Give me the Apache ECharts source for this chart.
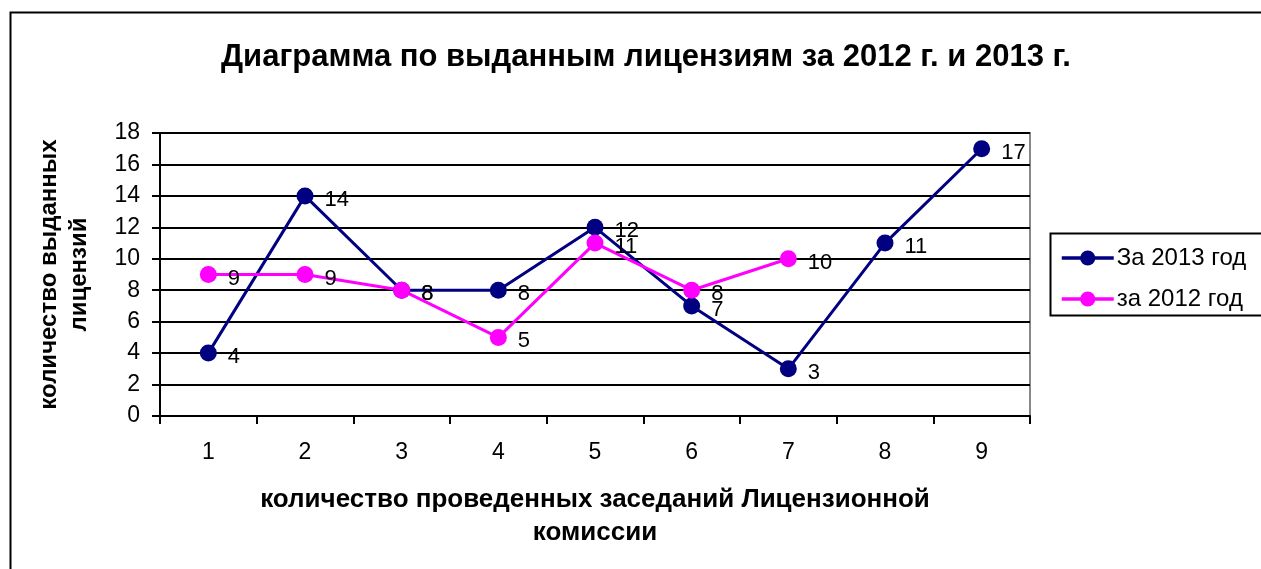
<!DOCTYPE html>
<html>
<head>
    <meta charset="utf-8">
    <title>Диаграмма по выданным лицензиям</title>
    <script src="https://cdn.jsdelivr.net/npm/echarts@6/dist/echarts.min.js"></script>
    <style>
        html, body { margin: 0; padding: 0; background: #fff; }
        #chart { width: 1261px; height: 569px; }
    </style>
</head>
<body>
    <div id="chart"></div>
    <script>
        // данные
        const categories = ['1', '2', '3', '4', '5', '6', '7', '8', '9'];
        const data2013 = [4, 14, 8, 8, 12, 7, 3, 11, 17];
        const data2012 = [9, 9, 8, 5, 11, 8, 10, null, null];
        const seriesNames = ['За 2013 год', 'за 2012 год'];

        const font = 'Liberation Sans, Arial, sans-serif';
        const chart = echarts.init(document.getElementById('chart'));

        function lineSeries(name, data, color) {
            return {
                name: name,
                type: 'line',
                data: data,
                symbol: 'circle',
                symbolSize: 17,
                itemStyle: { color: color },
                lineStyle: { color: color, width: 3 },
                label: {
                    show: true,
                    position: 'right',
                    distance: 11,
                    color: '#000',
                    fontSize: 22,
                    fontFamily: font,
                    offset: [0, 4]
                }
            };
        }

        chart.setOption({
            animation: false,
            title: {
                text: 'Диаграмма по выданным лицензиям за 2012 г. и 2013 г.',
                left: 641,
                textAlign: 'center',
                top: 37,
                textStyle: { fontSize: 31, fontWeight: 'bold', fontFamily: font, color: '#000' }
            },
            graphic: [
                {
                    type: 'rect',
                    shape: { x: 10.5, y: 12.5, width: 1300, height: 600 },
                    style: { fill: 'none', stroke: '#000', lineWidth: 2 },
                    silent: true, z: -1
                },
                {
                    type: 'rect',
                    shape: { x: 1050.5, y: 233.5, width: 300, height: 82 },
                    style: { fill: 'none', stroke: '#000', lineWidth: 2 },
                    silent: true
                }
            ],
            legend: {
                orient: 'vertical',
                left: 1055,
                top: 241,
                itemWidth: 52,
                itemHeight: 19,
                itemGap: 17,
                data: seriesNames,
                lineStyle: { width: 3.5 },
                textStyle: { fontSize: 24, fontFamily: font, color: '#000', padding: [0, 0, 0, -2] }
            },
            grid: {
                left: 160,
                top: 133,
                right: 231,
                bottom: 153,
                show: true,
                borderColor: '#888',
                borderWidth: 2,
                backgroundColor: 'transparent'
            },
            xAxis: {
                type: 'category',
                data: categories,
                boundaryGap: true,
                axisLine: { lineStyle: { color: '#000', width: 2 } },
                axisTick: { show: true, interval: 0, length: 8, lineStyle: { color: '#000', width: 2 } },
                axisLabel: { fontSize: 23, fontFamily: font, color: '#000', margin: 25 },
                name: 'количество проведенных заседаний Лицензионной\nкомиссии',
                nameLocation: 'middle',
                nameGap: 67,
                nameTextStyle: { fontSize: 26, fontWeight: 'bold', fontFamily: font, color: '#000', lineHeight: 33 }
            },
            yAxis: {
                type: 'value',
                min: 0,
                max: 18,
                interval: 2,
                axisLine: { show: true, lineStyle: { color: '#000', width: 2 } },
                axisTick: { show: true, length: 8, lineStyle: { color: '#000', width: 2 } },
                axisLabel: { fontSize: 23, fontFamily: font, color: '#000', margin: 20 },
                splitLine: { lineStyle: { color: '#000', width: 2 } },
                name: 'количество выданных\nлицензий',
                nameLocation: 'middle',
                nameGap: 66,
                nameRotate: 90,
                nameTextStyle: { fontSize: 24, fontWeight: 'bold', fontFamily: font, color: '#000', lineHeight: 30 }
            },
            series: [
                lineSeries(seriesNames[0], data2013, '#000080'),
                lineSeries(seriesNames[1], data2012, '#ff00ff')
            ]
        });
    </script>
</body>
</html>
